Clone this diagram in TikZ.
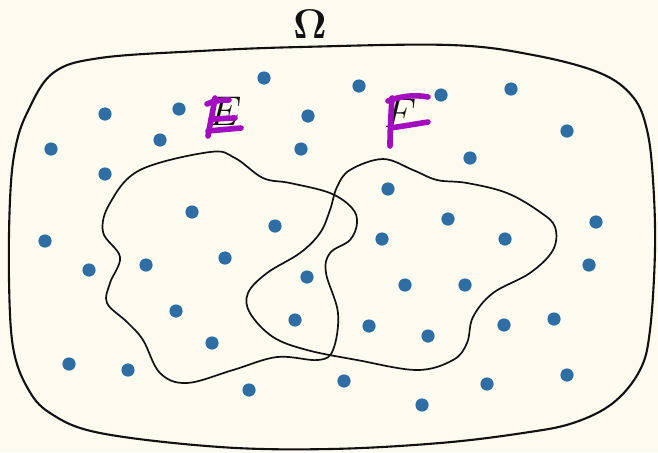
\documentclass[tikz,border=0pt]{standalone}
\usepackage{amsmath,amssymb}
\usepackage{xcolor}
\usepackage{tikz}
\usetikzlibrary{positioning}
\definecolor{cPaper}{HTML}{FDFBEF}
\definecolor{cDot}{HTML}{2E6EA5}
\definecolor{cInk}{HTML}{111111}
\definecolor{cPen}{HTML}{A20DC0}
\tikzset{
  outerline/.style={draw=cInk, line width=1.05pt},
  setline/.style={draw=cInk, line width=0.85pt},
  pt/.style={circle, fill=cDot, inner sep=0pt, minimum size=6.6pt},
  setlbl/.style={font=\fontsize{20}{22}\selectfont, text=cInk},
  penstroke/.style={draw=cPen, line width=2.8pt, line cap=round, line join=round}
}

\begin{document}
\begin{tikzpicture}[x=0.5pt, y=-0.5pt]
\useasboundingbox (0,0) rectangle (658,452);
\fill[cPaper] (0,0) rectangle (658,452);
% Sample space
\draw[outerline] plot[smooth cycle, tension=0.6] coordinates {
  (100,58) (200,51) (300,47) (450,45) (533,55) (600,73) (633,97)
  (647,130) (653,180) (655,250) (650,330) (640,370) (613,403) (573,423)
  (523,433) (440,443) (330,449) (220,447) (100,433) (50,413) (27,387)
  (13,347) (9,280) (10,200) (15,150) (27,113) (53,73)};
\node[font=\fontsize{20.5}{23}\selectfont, text=cInk] (omega) at (310,24) {$\mathbf{\Omega}$};
% Event E
\draw[setline] plot[smooth cycle, tension=0.6] coordinates {
  (210,152) (235,158) (263,178) (290,183) (330,193) (352,208) (357,223)
  (350,240) (330,253) (326,273) (338,313) (333,350) (318,360) (277,357)
  (233,370) (187,383) (160,373) (143,340) (127,322) (107,303) (110,283)
  (120,257) (103,232) (110,203) (140,170)};
% Event F
\draw[setline] plot[smooth cycle, tension=0.6] coordinates {
  (383,159) (350,170) (337,187) (330,210) (320,233) (300,253) (267,273)
  (248,293) (250,313) (273,337) (307,350) (357,360) (417,370) (453,360)
  (467,343) (473,317) (493,293) (530,273) (553,250) (555,227) (540,212)
  (507,193) (467,183) (437,180) (413,170)};
% Outcomes
\foreach \x/\y [count=\i] in {
  264/78, 359/86, 441/95, 511/89, 105/114, 179/109, 308/116, 567/131,
  51/149, 160/140, 301/149, 470/158, 105/174, 388/189, 192/212, 275/226,
  448/219, 596/222, 45/241, 382/239, 505/239, 89/270, 146/265, 225/258,
  589/265, 307/277, 405/285, 465/285, 176/311, 295/320, 369/326, 428/336,
  504/325, 554/319, 212/343, 69/364, 128/370, 249/390, 344/381, 422/405,
  487/384, 567/375}
  \node[pt] (w\i) at (\x,\y) {};
% Labels E and F, traced over by hand
\node[setlbl] (lblE) at (225,111) {$E$};
\node[setlbl] (lblF) at (400,113) {$F$};
\draw[penstroke] (207,104) .. controls (213,101) and (221,100) .. (229,100);
\draw[penstroke] (215,98) .. controls (213,111) and (210,124) .. (208,136);
\draw[penstroke] (211,119) .. controls (219,119) and (227,118) .. (235,118);
\draw[penstroke] (208,131) .. controls (219,130) and (230,129) .. (241,128);
\draw[penstroke] (388,101) .. controls (398,97) and (413,94) .. (428,97);
\draw[penstroke] (392,98) .. controls (391,114) and (390,130) .. (390,146);
\draw[penstroke] (391,128) .. controls (403,126) and (416,124) .. (428,122);
\end{tikzpicture}
\end{document}
